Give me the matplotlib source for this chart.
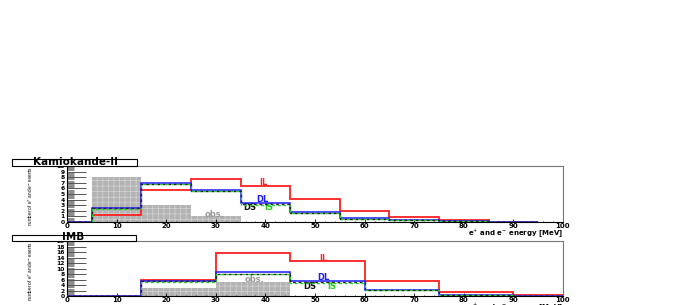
import matplotlib
matplotlib.use("Agg")
import matplotlib.pyplot as plt
from matplotlib.patches import Rectangle
from matplotlib.ticker import MultipleLocator

# ---------------- data ----------------
k_edges = [0, 5, 15, 25, 35, 45, 55, 65, 75, 85, 95]
k_IL = [0, 1.3, 5.75, 7.75, 6.4, 4.05, 1.95, 0.95, 0.3, 0.07]
k_DL = [0, 2.5, 6.95, 5.7, 3.35, 1.72, 0.7, 0.35, 0.17, 0.05]
k_DS = [0, 2.45, 6.8, 5.55, 3.15, 1.6, 0.62, 0.3, 0.14, 0.04]
k_IS = [0, 2.4, 6.75, 5.5, 3.1, 1.55, 0.6, 0.28, 0.13, 0.04]
k_obs_edges = [5, 15, 25, 35]
k_obs = [8, 3, 1]

i_edges = [0, 15, 30, 45, 60, 75, 90, 100]
i_IL = [0, 5.75, 15.8, 12.7, 5.4, 1.45, 0.6]
i_DL = [0, 5.6, 8.8, 5.7, 2.4, 0.6, 0.12]
i_DS = [0, 5.4, 8.1, 5.0, 2.2, 0.5, 0.1]
i_IS = [0, 5.35, 8.0, 4.9, 2.15, 0.48, 0.1]
i_obs_edges = [15, 30, 45]
i_obs = [3, 5]

panels = ["Kamiokande-II", "IMB"]
xlabel = "e$^{+}$ and e$^{-}$ energy [MeV]"
ylabel = "number of e$^{+}$ and e$^{-}$ events"

W, H = 681, 305
plt.rcParams['hatch.linewidth'] = 0.5
fig = plt.figure(figsize=(W / 100, H / 100), dpi=100)
fig.patch.set_facecolor('white')


def fx(px):
    return px / W


def fy(py):
    return 1 - py / H


def make_panel(top_px, bot_px, ymax, ymajor, edges, IL, DL, DS, IS, oedges, obs,
               title, box, labpos):
    ax = fig.add_axes([fx(67), fy(bot_px), fx(563) - fx(67), fy(top_px) - fy(bot_px)])
    ax.set_xlim(0, 100)
    ax.set_ylim(0, ymax)
    ax.stairs(obs, oedges, fill=True, facecolor='#b3b3b3', edgecolor='#d4d4d4',
              hatch='+++', linewidth=0, zorder=1)
    ax.stairs(IL, edges, baseline=None, color='#ff2020', lw=1.3, zorder=3)
    ax.stairs(DL, edges, baseline=None, color='#1a1aff', lw=1.1, zorder=4)
    ax.stairs(DS, edges, baseline=None, color='#222222', lw=1.0, ls=(0, (2, 2)), zorder=5)
    ax.stairs(IS, edges, baseline=None, color='#22cc22', lw=1.0, ls=(2, (2, 2)), zorder=6)

    fs = 6
    (ilx, ily), (dlx, dly), (dsx, dsy), (isx, isy), (obx, oby) = labpos
    ax.text(ilx, ily, "IL", color='#ff2020', fontsize=fs, fontweight='bold', ha='center', va='center')
    ax.text(dlx, dly, "DL", color='#1a1aff', fontsize=fs, fontweight='bold', ha='center', va='center')
    ax.text(dsx, dsy, "DS", color='#111111', fontsize=fs, fontweight='bold', ha='center', va='center')
    ax.text(isx, isy, "IS", color='#22cc22', fontsize=fs, fontweight='bold', ha='center', va='center')
    ax.text(obx, oby, "obs.", color='#999999', fontsize=fs, fontweight='bold', ha='center', va='center')

    for s in ['left', 'bottom']:
        ax.spines[s].set_color('black')
        ax.spines[s].set_linewidth(0.8)
    for s in ['top', 'right']:
        ax.spines[s].set_color('#777777')
        ax.spines[s].set_linewidth(0.8)

    ax.xaxis.set_major_locator(MultipleLocator(10))
    ax.xaxis.set_minor_locator(MultipleLocator(2))
    ax.yaxis.set_major_locator(MultipleLocator(ymajor))
    ax.yaxis.set_minor_locator(MultipleLocator(ymajor / 5))
    ax.tick_params(axis='x', which='major', direction='in', length=2, width=0.6,
                   labelsize=5, pad=0.5, colors='black')
    ax.tick_params(axis='x', which='minor', direction='in', length=1, width=0.5)
    ax.tick_params(axis='y', which='major', direction='in', length=14, width=0.7,
                   labelsize=4.3, pad=1.5, colors='#555555', labelcolor='black')
    ax.tick_params(axis='y', which='minor', direction='in', length=5, width=0.6,
                   colors='#777777')
    for lab in ax.get_xticklabels() + ax.get_yticklabels():
        lab.set_fontweight('bold')

    ax.text(100, -0.1, xlabel, transform=ax.get_xaxis_transform(), fontsize=5,
            fontweight='bold', ha='right', va='top')
    fig.text(fx(31), (fy(top_px) + fy(bot_px)) / 2 - 0.006, ylabel, rotation=90,
             fontsize=3.3, ha='center', va='center',
             family=['Liberation Sans Narrow', 'Liberation Sans', 'DejaVu Sans'])

    # title box
    bx0, by0, bx1, by1 = box
    rect = Rectangle((fx(bx0), fy(by1)), fx(bx1) - fx(bx0), fy(by0) - fy(by1),
                     transform=fig.transFigure, facecolor='white', edgecolor='black',
                     linewidth=0.8, zorder=10)
    fig.patches.append(rect)
    fig.text(title[1], (fy(by0) + fy(by1)) / 2 + 0.002, title[0], fontsize=7.5,
             fontweight='bold', ha='center', va='center', zorder=11)
    return ax


make_panel(166, 222, 10, 1, k_edges, k_IL, k_DL, k_DS, k_IS, k_obs_edges, k_obs,
           (panels[0], fx(75)), (12, 159, 137, 166),
           [(39.5, 7.0), (39.3, 4.0), (36.9, 2.5), (40.7, 2.5), (29.8, 1.35)])
make_panel(241, 296.3, 20, 2, i_edges, i_IL, i_DL, i_DS, i_IS, i_obs_edges, i_obs,
           (panels[1], fx(73)), (12, 235, 136, 241),
           [(51.6, 13.7), (51.6, 6.8), (49.0, 3.5), (53.4, 3.5), (37.9, 6.2)])

fig.savefig("out.png", dpi=100, facecolor='white')
